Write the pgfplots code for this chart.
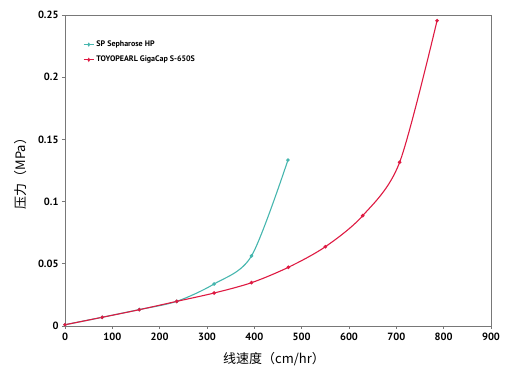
\documentclass[border=0pt]{standalone}
\usepackage{pgfplots}
\pgfplotsset{compat=1.18}
\usepackage{fontspec}
\setmainfont{PT Sans}
\newfontfamily\cjk{Noto Sans CJK SC}
\definecolor{cyanc}{RGB}{70,182,174}
\definecolor{redc}{RGB}{222,26,66}
\definecolor{axc}{RGB}{120,120,120}
\begin{document}
\begin{tikzpicture}
\begin{axis}[
  scale only axis, width=426pt, height=311pt,
  xmin=0, xmax=900, ymin=0, ymax=0.25,
  xtick={0,100,200,300,400,500,600,700,800,900},
  ytick={0,0.05,0.1,0.15,0.2,0.25},
  yticklabels={0,0.05,0.1,0.15,0.2,0.25},
  scaled y ticks=false,
  axis line style={axc, line width=0.9pt},
  tick align=outside, major tick length=3pt,
  tick style={axc, line width=0.6pt},
  xtick pos=bottom, ytick pos=left,
  /pgf/number format/assume math mode=true,
  tick label style={font=\bfseries\fontsize{10.5}{12}\selectfont},
  xlabel={\cjk 线速度（cm/hr）},
  ylabel={\cjk 压力（MPa）},
  label style={font=\cjk\fontsize{13}{15}\selectfont},
  xlabel style={yshift=-5pt, xshift=-4pt},
  ylabel style={yshift=4pt},
  legend style={draw=none, fill=none, at={(0.035,0.93)}, anchor=north west,
    font=\bfseries\fontsize{8}{9}\selectfont, row sep=4pt},
  legend cell align=left,
  legend image post style={xscale=0.6},
]
\addplot[cyanc, line width=1.1pt, smooth, tension=0.5, mark=*, mark size=1.2pt]
  coordinates {(0,0.001) (78.6,0.007) (157,0.0132) (236,0.0198) (315,0.0338) (394,0.0563) (471,0.1334)};
\addlegendentry{SP Sepharose HP}
\addplot[redc, line width=1.1pt, smooth, tension=0.5, mark=*, mark size=1.2pt]
  coordinates {(0,0.001) (78.6,0.007) (157,0.0131) (236,0.0198) (315,0.0265) (394,0.0348) (472,0.0472) (550,0.0637) (629,0.0887) (707,0.1316) (786,0.2454)};
\addlegendentry{TOYOPEARL GigaCap S-650S}
\end{axis}
\path (-65pt,-45pt) rectangle (442pt,326pt);
\end{tikzpicture}
\end{document}
